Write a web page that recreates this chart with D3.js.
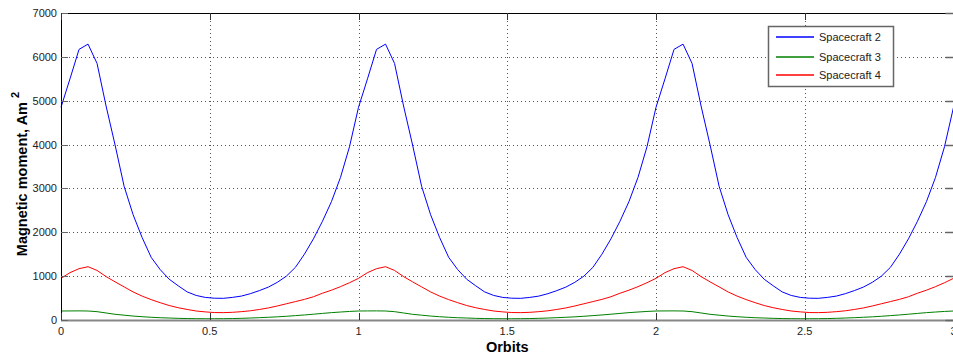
<!DOCTYPE html>
<html><head><meta charset="utf-8">
<script src="https://cdn.jsdelivr.net/npm/d3@7/dist/d3.min.js"></script>
<style>
html,body{margin:0;padding:0;background:#fff;}
svg{display:block;font-family:"Liberation Sans",Arial,sans-serif;}
</style></head>
<body><svg id="c" width="953" height="354"></svg>
<script>
// Orbit positions: 100 samples over 3 orbits
const orbits = d3.range(100).map(k => k * 3 / 99);
const sc2 = [
4850,5500,6170,6290,5850,4880,3990,3050,2400,1880,1430,1150,930,780,640,560,515,497,494,515,545,600,670,750,860,1000,1200,1500,1850,2250,2700,3250,3950,
4850,5500,6170,6290,5850,4880,3990,3050,2400,1880,1430,1150,930,780,640,560,515,497,494,515,545,600,670,750,860,1000,1200,1500,1850,2250,2700,3250,3950,
4850,5500,6170,6290,5850,4880,3990,3050,2400,1880,1430,1150,930,780,640,560,515,497,494,515,545,600,670,750,860,1000,1200,1500,1850,2250,2700,3250,3950,
4850];
const sc3 = [
205,207,208,205,190,160,130,110,90,75,62,52,45,38,33,30,29,29,30,33,38,45,53,62,72,85,100,115,132,150,168,182,195,
205,207,208,205,190,160,130,110,90,75,62,52,45,38,33,30,29,29,30,33,38,45,53,62,72,85,100,115,132,150,168,182,195,
205,207,208,205,190,160,130,110,90,75,62,52,45,38,33,30,29,29,30,33,38,45,53,62,72,85,100,115,132,150,168,182,195,
205];
const sc4 = [
950,1080,1170,1215,1130,990,870,755,640,545,465,395,330,280,240,205,185,170,168,175,190,210,240,275,320,370,420,470,530,610,680,760,850,
950,1080,1170,1215,1130,990,870,755,640,545,465,395,330,280,240,205,185,170,168,175,190,210,240,275,320,370,420,470,530,610,680,760,850,
950,1080,1170,1215,1130,990,870,755,640,545,465,395,330,280,240,205,185,170,168,175,190,210,240,275,320,370,420,470,530,610,680,760,850,
950];
const seriesNames = ["Spacecraft 2","Spacecraft 3","Spacecraft 4"];
const seriesColors = ["#0000ff","#008000","#ff0000"];
const xTicks = [0,0.5,1,1.5,2,2.5,3];
const xTickLabels = ["0","0.5","1","1.5","2","2.5","3"];
const yTicks = [0,1000,2000,3000,4000,5000,6000,7000];
const yTickLabels = ["0","1000","2000","3000","4000","5000","6000","7000"];

const svg = d3.select("#c");
const L = 61, R = 953.5, T = 13, B = 320;
const x = d3.scaleLinear().domain([0,3]).range([L,R]);
const y = d3.scaleLinear().domain([0,7000]).range([B,T]);

// grid
const grid = svg.append("g").attr("stroke","#555").attr("stroke-width",1).attr("stroke-dasharray","1,3");
grid.selectAll(".gx").data(xTicks.slice(1,-1)).join("line")
  .attr("x1",d=>Math.round(x(d))+0.5).attr("x2",d=>Math.round(x(d))+0.5).attr("y1",T).attr("y2",B);
grid.selectAll(".gy").data(yTicks.slice(1,-1)).join("line")
  .attr("y1",d=>Math.round(y(d))+0.5).attr("y2",d=>Math.round(y(d))+0.5).attr("x1",L).attr("x2",R);

// lines
const data = [sc2, sc3, sc4];
const line = d3.line().x((d,i)=>x(orbits[i])).y(d=>y(d));
svg.append("g").selectAll("path").data(data).join("path")
  .attr("d", line).attr("fill","none").attr("stroke",(d,i)=>seriesColors[i]).attr("stroke-width",1);

// axes frame
svg.append("line").attr("x1",L).attr("x2",R).attr("y1",T+0.5).attr("y2",T+0.5).attr("stroke","#000");
svg.append("line").attr("x1",L+0.5).attr("x2",L+0.5).attr("y1",T).attr("y2",B+1).attr("stroke","#000");
svg.append("line").attr("x1",L).attr("x2",R).attr("y1",B+0.5).attr("y2",B+0.5).attr("stroke","#888").attr("stroke-width",2);

// ticks
const tk = svg.append("g");
tk.selectAll(".ty").data(yTicks).join("line")
  .attr("x1",L).attr("x2",L+7).attr("y1",d=>Math.round(y(d))+0.5).attr("y2",d=>Math.round(y(d))+0.5).attr("stroke","#666");
tk.selectAll(".ty2").data(yTicks).join("line")
  .attr("x1",R-8).attr("x2",R).attr("y1",d=>Math.round(y(d))+0.5).attr("y2",d=>Math.round(y(d))+0.5).attr("stroke","#666").attr("stroke-width",1.5);
tk.selectAll(".tx").data(xTicks).join("line")
  .attr("x1",d=>Math.round(x(d))+0.5).attr("x2",d=>Math.round(x(d))+0.5).attr("y1",B-7).attr("y2",B).attr("stroke","#333");
tk.selectAll(".tx2").data(xTicks).join("line")
  .attr("x1",d=>Math.round(x(d))+0.5).attr("x2",d=>Math.round(x(d))+0.5).attr("y1",T).attr("y2",T+7).attr("stroke","#333");

// tick labels
svg.append("g").selectAll("text").data(yTicks).join("text")
  .attr("x",57).attr("y",d=>y(d)+4).attr("text-anchor","end").attr("font-size",11).attr("fill","#222")
  .text((d,i)=>yTickLabels[i]);
svg.append("g").selectAll("text").data(xTicks).join("text")
  .attr("x",d=>x(d)).attr("y",335).attr("text-anchor","middle").attr("font-size",11).attr("fill","#222")
  .text((d,i)=>xTickLabels[i]);

// axis titles
svg.append("text").attr("x",(L+R)/2).attr("y",352).attr("text-anchor","middle")
  .attr("font-size",14.5).attr("font-weight","bold").attr("fill","#000").text("Orbits");
const yl = svg.append("text").attr("transform","translate(27,174) rotate(-90)").attr("text-anchor","middle").attr("fill","#000");
yl.append("tspan").attr("font-size",14.5).attr("font-weight","bold").text("Magnetic moment, Am ");
yl.append("tspan").attr("font-size",11).attr("font-weight","bold").attr("dy",-8).text("2");

// legend
const lg = svg.append("g");
lg.append("rect").attr("x",768.5).attr("y",26.5).attr("width",125).attr("height",60)
  .attr("fill","#fff").attr("stroke","#666").attr("stroke-width",1.5);
const rowsY = [37,57,75];
lg.selectAll("line.leg").data(seriesNames).join("line")
  .attr("x1",776).attr("x2",814).attr("y1",(d,i)=>rowsY[i]).attr("y2",(d,i)=>rowsY[i])
  .style("stroke",(d,i)=>seriesColors[i]).style("stroke-width","1.3px");
lg.selectAll("text.leg").data(seriesNames).join("text")
  .attr("x",819).attr("y",(d,i)=>rowsY[i]+4).attr("font-size",11).attr("fill","#222").text(d=>d);
</script></body></html>
